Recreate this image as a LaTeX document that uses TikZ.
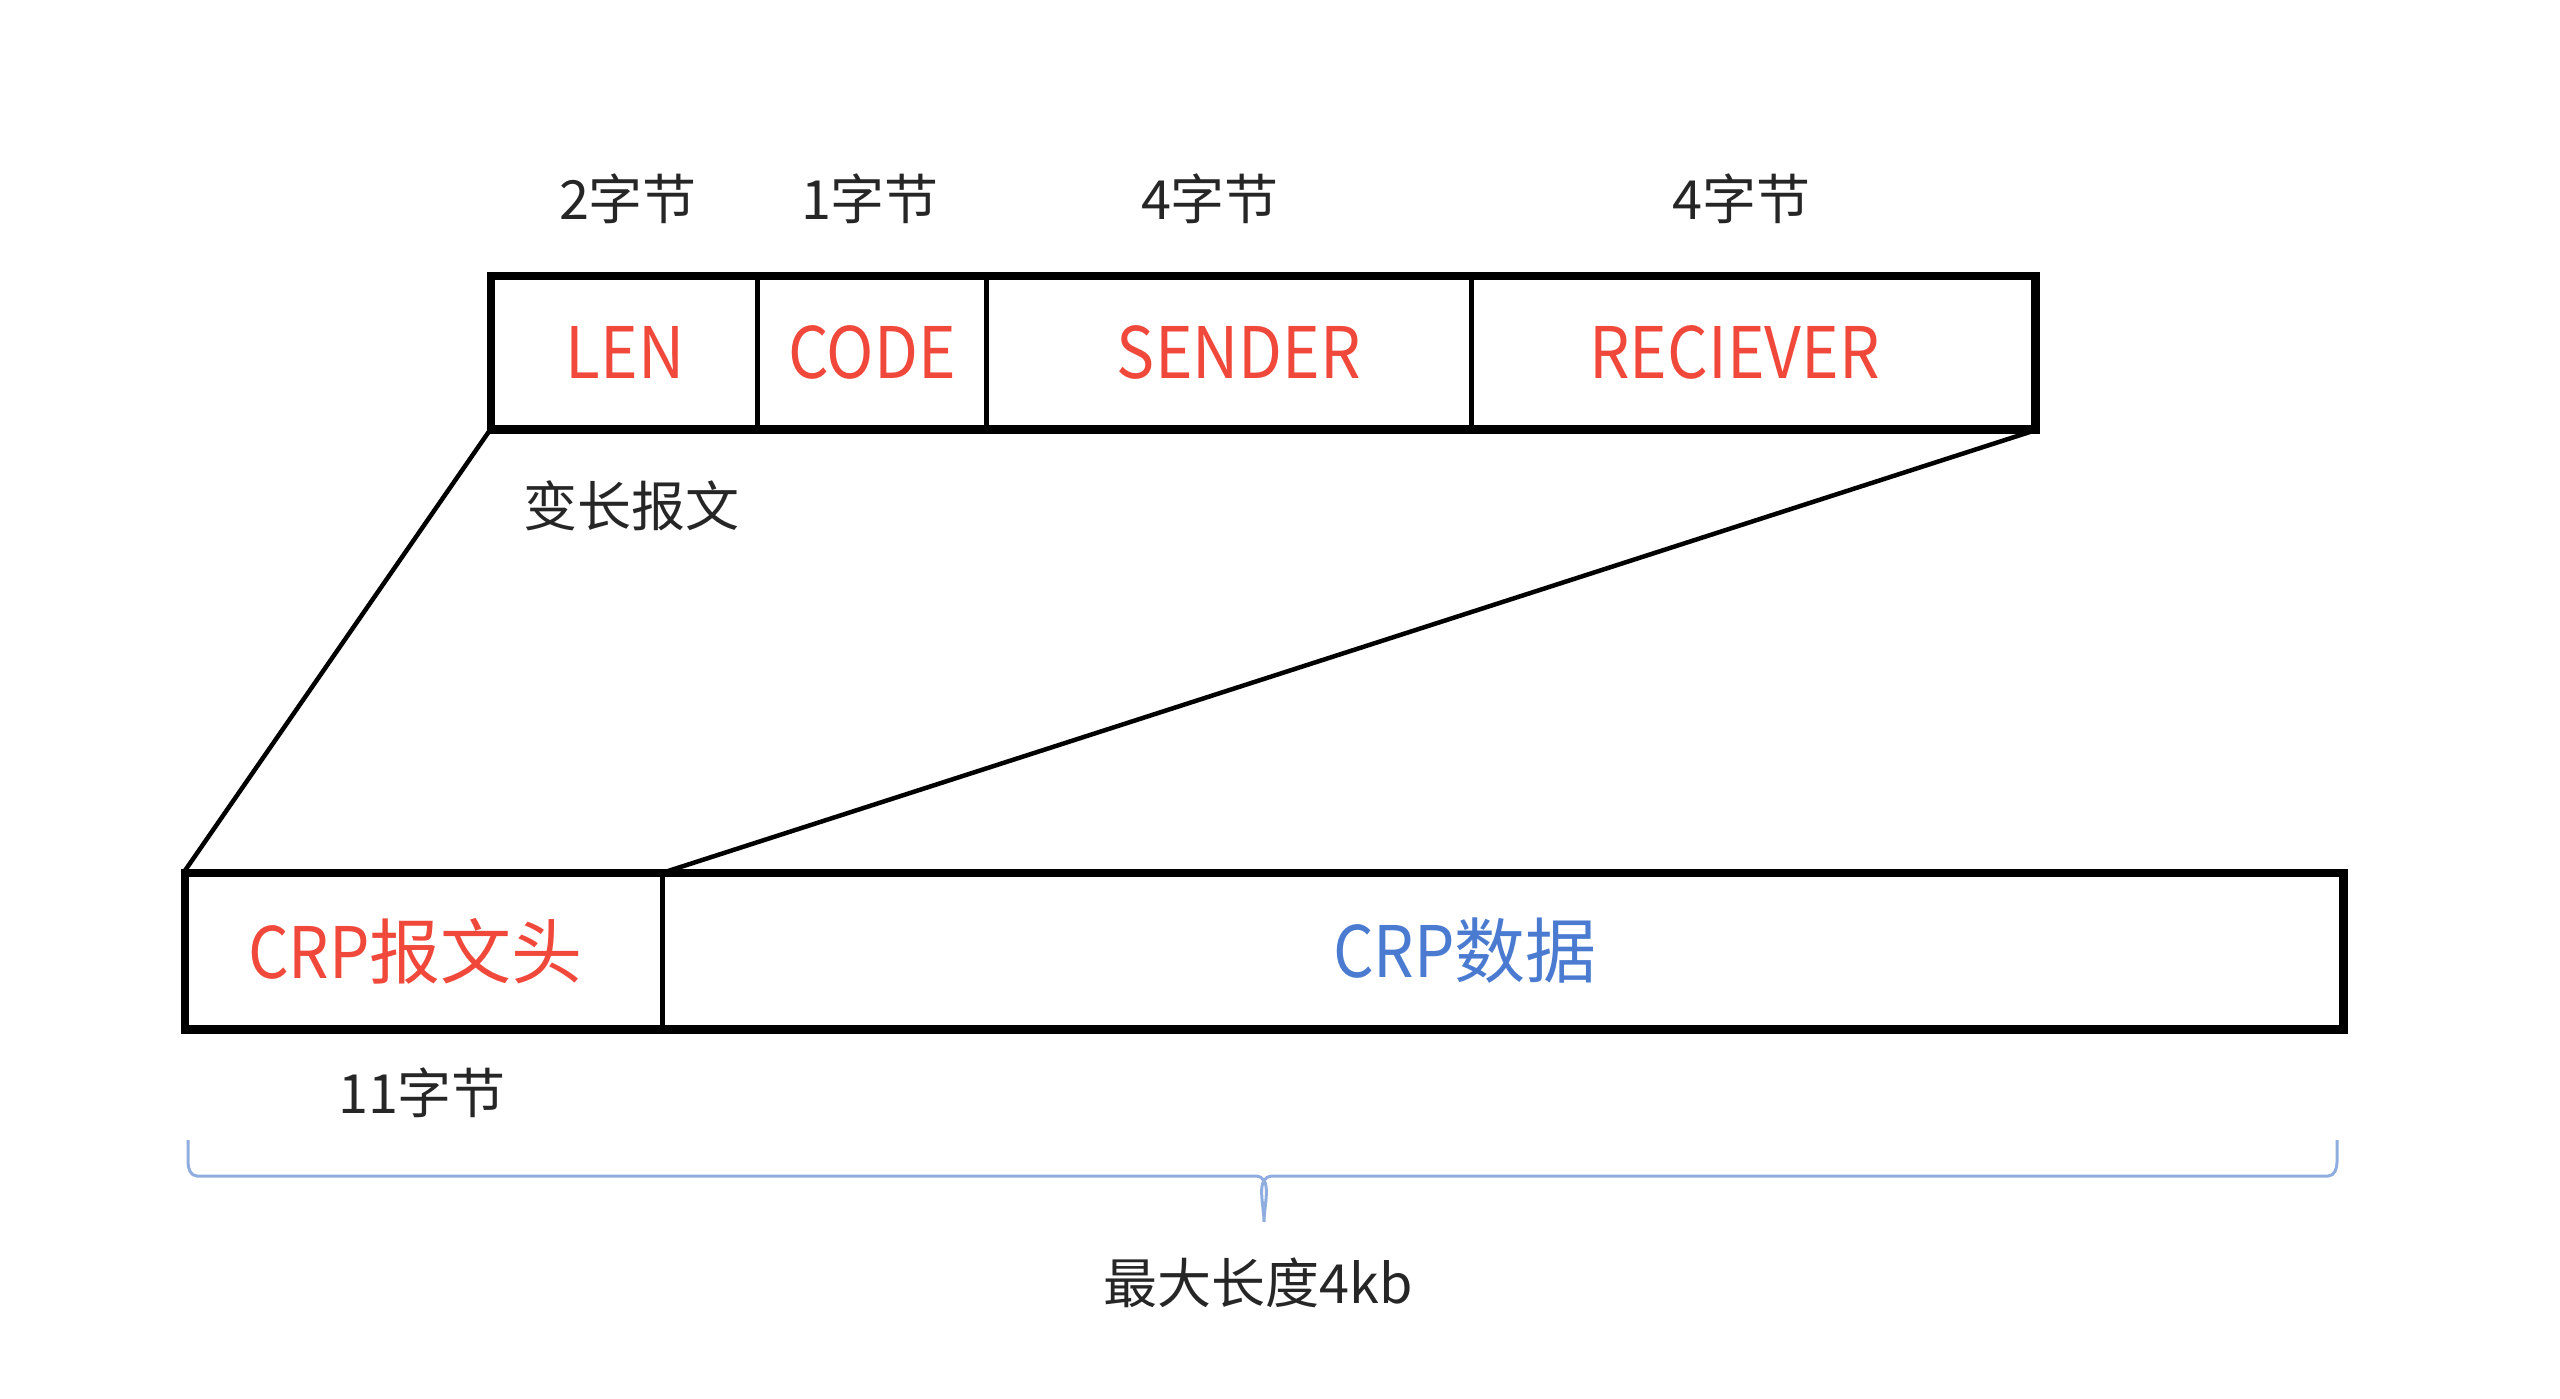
\documentclass[tikz,border=0pt]{standalone}
\usepackage{fontspec}
\setmainfont{Noto Sans CJK SC}
\newfontfamily\latfont[FakeStretch=0.9]{Noto Sans CJK SC}
\newcommand{\lat}[1]{{\latfont #1}}
\definecolor{lred}{HTML}{F0483A}
\definecolor{lblue}{HTML}{4A7BD0}
\definecolor{bracec}{HTML}{8FAEDF}
\tikzset{
  cell/.style={draw=black, line width=5pt, inner sep=0pt, anchor=north west},
  redtxt/.style={text=lred, font=\fontsize{71}{76}\selectfont},
  bluetxt/.style={text=lblue, font=\fontsize{71}{76}\selectfont},
  small/.style={text=black!85, font=\fontsize{54}{58}\selectfont, inner sep=0pt},
  outer/.style={draw=black, line width=7pt},
  conn/.style={draw=black, line width=4.5pt},
}
\begin{document}
\begin{tikzpicture}[x=1pt,y=-1pt]
\useasboundingbox (0,0) rectangle (2560,1398);
% top box
\node[cell, minimum width=265pt, minimum height=150pt, redtxt] (len) at (490,275) {\lat{LEN}};
\node[cell, minimum width=229pt, minimum height=150pt, redtxt] (code) at (755,275) {\lat{CODE}};
\node[cell, minimum width=485pt, minimum height=150pt, redtxt] (sender) at (984,275) {\hspace*{20pt}\lat{SENDER}};
\node[cell, minimum width=562pt, minimum height=150pt, redtxt] (recv) at (1469,275) {\hspace*{-36pt}\lat{RECIEVER}};
\draw[outer] (len.north west) rectangle (recv.south east);
% byte labels
\node[small] (b1) at (628,199) {2字节};
\node[small] (b2) at (870,199) {1字节};
\node[small] (b3) at (1210,199) {4字节};
\node[small] (b4) at (1741,199) {4字节};
\node[small] (var) at (631,506) {变长报文};
% bottom box
\node[cell, minimum width=476pt, minimum height=153pt, redtxt] (head) at (184,872) {\hspace*{-18pt}\lat{CRP}报文头};
\node[cell, minimum width=1679pt, minimum height=153pt, bluetxt] (data) at (660,872) {\hspace*{-74pt}\lat{CRP}数据};
\draw[outer] (head.north west) rectangle (data.south east);
% connectors
\draw[conn] (len.south west) -- (head.north west);
\draw[conn] (recv.south east) -- (head.north east);
% labels below
\node[small] (b11) at (422,1093) {11字节};
% brace
\coordinate (bl) at (188,1140);
\coordinate (br) at (2337,1140);
\coordinate (btip) at (1264,1222);
\draw[bracec, line width=3pt]
  (bl) -- ++(0,22) to[out=-90,in=180] ++(9,14) -- (1255,1176)
  to[out=0,in=90] (btip) to[out=90,in=180] (1273,1176) -- (2328,1176)
  to[out=0,in=-90] ++(9,-14) -- (br);
\node[small] (maxlen) at (1258,1283) {最大长度4kb};
\end{tikzpicture}
\end{document}
